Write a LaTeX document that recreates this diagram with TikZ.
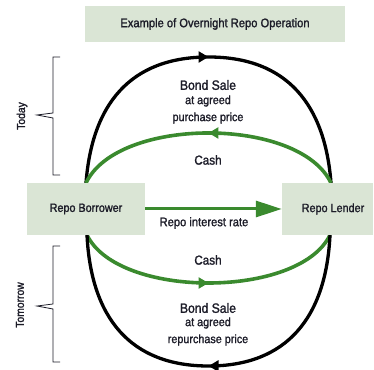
\documentclass[tikz,border=0pt]{standalone}
\usepackage{fontspec}
\setmainfont{Liberation Sans}[FakeStretch=0.9,FakeBold=1.5]
\usetikzlibrary{arrows.meta,decorations.markings}
\definecolor{boxfill}{HTML}{DAE5D5}
\definecolor{repogreen}{HTML}{3A8A2E}
\definecolor{txt}{HTML}{1C1C28}
\tikzset{
  x=1pt,y=1pt,
  box/.style={fill=boxfill,draw=none,inner sep=0pt},
  lbl/.style={text=txt,align=center,inner sep=0pt},
  blackarc/.style={line width=3.3pt,draw=black},
  greenarc/.style={line width=3.6pt,draw=repogreen},
  midarrow/.style={postaction={decorate,decoration={markings,
     mark=at position 0.5 with {\arrow[#1]{Triangle[length=10pt,width=11pt]}}}}},
  bracket/.style={line width=0.8pt,draw=txt}
}
\begin{document}
\begin{tikzpicture}
\useasboundingbox (0,0) rectangle (374,369);
% title
\node[box,minimum width=260,minimum height=36] (title) at (215,345) {};
\node[lbl,font=\fontsize{12.4}{14}\selectfont] (titletxt) at (title) {Example of Overnight Repo Operation};
% arc anchor points
\coordinate (bl) at (86,186);
\coordinate (br) at (331,186);
\coordinate (ttop) at (208.5,312);
\coordinate (bbl) at (87,134);
\coordinate (bbr) at (330,134);
\coordinate (bbot) at (208.5,3);
\draw[blackarc,midarrow=black] (bl) .. controls +(6,78) and +(-79,0) .. (ttop)
   .. controls +(79,0) and +(-6,78) .. (br);
\draw[greenarc,midarrow=repogreen] (br) .. controls +(-31.5,66.7) and +(31.5,66.7) .. (bl);
\draw[greenarc,midarrow=repogreen] (bbl) .. controls +(31,-64) and +(-31,-64) .. (bbr);
\draw[blackarc,midarrow=black] (bbr) .. controls +(-4,-83) and +(78,0) .. (bbot)
   .. controls +(-78,0) and +(4,-83) .. (bbl);
% boxes
\node[box,minimum width=118,minimum height=52] (borrower) at (86,160) {};
\node[lbl,font=\fontsize{12}{14}\selectfont] at (borrower) {Repo Borrower};
\node[box,minimum width=91,minimum height=52] (lender) at (327.5,160) {};
\node[lbl,font=\fontsize{12}{14}\selectfont] at (333,160) {Repo Lender};
% horizontal arrow
\draw[line width=3pt,draw=repogreen,-{Triangle[length=26pt,width=16pt]}] (borrower.east) -- (lender.west);
\node[lbl,font=\fontsize{12.4}{14}\selectfont] at (204,146) {Repo interest rate};
% texts top
\node[lbl,font=\fontsize{13.5}{16}\selectfont] at (208,284) {Bond Sale};
\node[lbl,font=\fontsize{12}{13}\selectfont] at (208,268) {at agreed};
\node[lbl,font=\fontsize{12}{13}\selectfont] at (208,251) {purchase price};
\node[lbl,font=\fontsize{13}{15}\selectfont] at (208,209) {Cash};
% texts bottom
\node[lbl,font=\fontsize{13}{15}\selectfont] at (208,109) {Cash};
\node[lbl,font=\fontsize{13.5}{16}\selectfont] at (208,61) {Bond Sale};
\node[lbl,font=\fontsize{12}{13}\selectfont] at (208,46) {at agreed};
\node[lbl,font=\fontsize{12}{13}\selectfont] at (208,29) {repurchase price};
% brackets
\draw[bracket] (60,312) -- (53,312) -- (53,256) -- (37,254) -- (53,251) -- (53,194) -- (60,194);
\draw[bracket] (60,123) -- (53,123) -- (53,65) -- (37,63) -- (53,60) -- (53,7) -- (60,7);
\node[lbl,rotate=90,font=\fontsize{11.5}{13}\selectfont] at (22,253) {Today};
\node[lbl,rotate=90,font=\fontsize{11.5}{13}\selectfont] at (20,64) {Tomorrow};
\end{tikzpicture}
\end{document}
